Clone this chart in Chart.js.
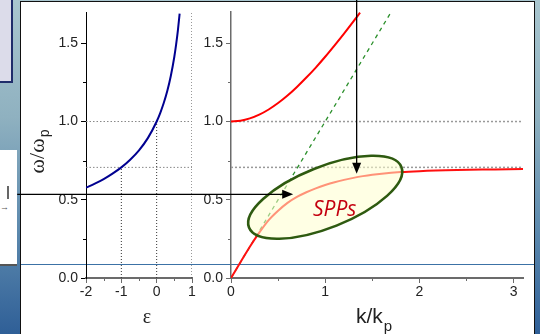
<!DOCTYPE html>
<html>
<head>
<meta charset="utf-8">
<script src="https://cdn.jsdelivr.net/npm/chart.js@4.4.1/dist/chart.umd.min.js"></script>
<style>
body { margin: 0; }
#wrap { position: relative; width: 540px; height: 334px; overflow: hidden;
  background: linear-gradient(180deg, #a9c6cf 0%, #8fb1c0 35%, #5b88ad 70%, #2f5f97 100%); }
#tab { position: absolute; left: 0; top: 0; width: 11px; height: 81px; background: #dcdcea;
  border-right: 2px solid #1f2d6a; border-bottom: 2px solid #1f2d6a; }
#side { position: absolute; left: 0; top: 150px; width: 17px; height: 114px; background: #fff;
  border-bottom: 2px solid #555; }
#bar { position: absolute; left: 7px; top: 186px; width: 2px; height: 13px; background: #666; }
#tiny { position: absolute; left: 0; top: 202px; font: 9px "Liberation Sans", Arial; color: #555; }
#frame { position: absolute; left: 20px; top: 1px; width: 513px; height: 340px; background: #fff;
  border: 1.5px solid #111; }
#hline { position: absolute; left: 21px; top: 264px; width: 513px; height: 1px; background: #3c72a6; }
canvas { position: absolute; left: 0; top: 0; }
</style>
</head>
<body>
<div id="wrap">
  <div id="tab"></div>
  <div id="side"></div>
  <div id="bar"></div>
  <div id="tiny">&rarr;</div>
  <div id="frame"></div>
  <div id="hline"></div>
  <canvas id="leftChart" width="540" height="334"></canvas>
  <canvas id="rightChart" width="540" height="334"></canvas>
</div>
<script>
// ---- data ----
// left panel: omega/omega_p vs permittivity
const epsVals   = [-2, -1.75, -1.5, -1.25, -1, -0.75, -0.5, -0.25, 0, 0.1, 0.2, 0.3, 0.4, 0.5, 0.55, 0.6, 0.65];
const epsOmega  = [0.577, 0.603, 0.632, 0.667, 0.707, 0.756, 0.816, 0.894, 1.0, 1.054, 1.118, 1.195, 1.291, 1.414, 1.491, 1.581, 1.69];

// right panel: dispersion curves
const bulkK     = [0, 0.1, 0.2, 0.3, 0.4, 0.5, 0.6, 0.7, 0.8, 0.9, 1.0, 1.1, 1.2, 1.3, 1.37];
const bulkOmega = [1.0, 1.005, 1.02, 1.044, 1.077, 1.118, 1.166, 1.221, 1.281, 1.345, 1.414, 1.487, 1.562, 1.64, 1.696];
const lightK     = [0, 1.7];
const lightOmega = [0, 1.7];
const sppK     = [0, 0.1, 0.2, 0.3, 0.4, 0.5, 0.6, 0.7, 0.8, 0.9, 1.0, 1.1, 1.2, 1.3, 1.4, 1.5, 1.6, 1.8, 2.0, 2.4, 2.8, 3.1];
const sppOmega = [0, 0.1, 0.2, 0.29, 0.37, 0.43, 0.48, 0.518, 0.548, 0.573, 0.594, 0.612, 0.627, 0.64, 0.651, 0.66, 0.667, 0.677, 0.683, 0.69, 0.694, 0.697];

// reference levels
const omegaP  = 1.0;
const omegaSP = 0.707;

// ticks
const omegaTicks = [0, 0.5, 1.0, 1.5];
const omegaMinor = [0.25, 0.75, 1.25];
const epsTicks   = [-2, -1, 0, 1];
const epsMinor   = [-1.5, -0.5, 0.5];
const kTicks     = [0, 1, 2, 3];
const kMinor     = [0.5, 1.5, 2.5];

const pts = (xs, ys) => xs.map((x, i) => ({ x: x, y: ys[i] }));
const tickFont = { family: '"Liberation Sans", Arial', size: 14 };
const axisGray = '#6b6b6b';

function setTicks(list) {
    return scale => { scale.ticks = list.map(v => ({ value: v })); };
}

function drawMinor(chart, id, values, len, color) {
    const s = chart.scales[id];
    const c = chart.ctx;
    c.save();
    c.strokeStyle = color;
    c.lineWidth = 1;
    values.forEach(v => {
        c.beginPath();
        if (s.isHorizontal()) {
            const x = Math.round(s.getPixelForValue(v)) + 0.5;
            c.moveTo(x, s.top);
            c.lineTo(x, s.top + len);
        } else {
            const y = Math.round(s.getPixelForValue(v)) + 0.5;
            c.moveTo(s.right - len, y);
            c.lineTo(s.right, y);
        }
        c.stroke();
    });
    c.restore();
}

function arrow(c, x1, y1, x2, y2) {
    const a = Math.atan2(y2 - y1, x2 - x1);
    c.beginPath();
    c.moveTo(x1, y1);
    c.lineTo(x2 - 9 * Math.cos(a), y2 - 9 * Math.sin(a));
    c.stroke();
    c.beginPath();
    c.moveTo(x2, y2);
    c.lineTo(x2 - 11 * Math.cos(a) + 4.5 * Math.sin(a), y2 - 11 * Math.sin(a) - 4.5 * Math.cos(a));
    c.lineTo(x2 - 11 * Math.cos(a) - 4.5 * Math.sin(a), y2 - 11 * Math.sin(a) + 4.5 * Math.cos(a));
    c.closePath();
    c.fill();
}

// ---- left panel ----
const leftDecor = {
    id: 'leftDecor',
    afterDraw(chart) {
        const c = chart.ctx;
        drawMinor(chart, 'y', omegaMinor, 3, '#000');
        drawMinor(chart, 'x', epsMinor, 3, axisGray);
        c.save();
        c.fillStyle = '#222';
        // y title: omega/omega_p, rotated
        c.translate(44, 152);
        c.rotate(-Math.PI / 2);
        c.font = '22px "Liberation Serif", serif';
        const main = '\u03c9/\u03c9';
        const w = c.measureText(main).width;
        c.font = '14px "Liberation Sans", Arial';
        const pw = c.measureText('p').width;
        const x0 = -(w + pw) / 2;
        c.font = '22px "Liberation Serif", serif';
        c.textBaseline = 'alphabetic';
        c.fillText(main, x0, 0);
        c.font = '14px "Liberation Sans", Arial';
        c.fillText('p', x0 + w + 1, 5);
        c.restore();
        c.save();
        c.fillStyle = '#222';
        c.font = '20px "Liberation Serif", serif';
        c.textAlign = 'center';
        c.fillText('\u03b5', 147, 323);
        c.restore();
    }
};

new Chart(document.getElementById('leftChart').getContext('2d'), {
    type: 'scatter',
    data: {
        datasets: [
            {
                data: pts(epsVals, epsOmega),
                showLine: true,
                borderColor: '#000090',
                borderWidth: 2,
                pointRadius: 0,
                cubicInterpolationMode: 'monotone'
            },
            {
                data: [{ x: -2, y: omegaP }, { x: 1, y: omegaP }],
                showLine: true, borderColor: '#888', borderWidth: 1, borderDash: [1.5, 2], pointRadius: 0
            },
            {
                data: [{ x: -2, y: omegaSP }, { x: 1, y: omegaSP }],
                showLine: true, borderColor: '#888', borderWidth: 1, borderDash: [1.5, 2], pointRadius: 0
            },
            {
                data: [{ x: -1, y: 0 }, { x: -1, y: omegaSP }],
                showLine: true, borderColor: '#333', borderWidth: 1, borderDash: [1, 2], pointRadius: 0
            },
            {
                data: [{ x: 0, y: 0 }, { x: 0, y: omegaP }],
                showLine: true, borderColor: '#333', borderWidth: 1, borderDash: [1, 2], pointRadius: 0
            },
            {
                data: [{ x: 1, y: 0 }, { x: 1, y: 1.7 }],
                showLine: true, borderColor: '#333', borderWidth: 1, borderDash: [1, 2], pointRadius: 0
            }
        ]
    },
    options: {
        responsive: false,
        animation: false,
        layout: { padding: { left: 46, right: 348, top: 12, bottom: 36 } },
        plugins: { legend: { display: false }, tooltip: { enabled: false } },
        scales: {
            x: {
                type: 'linear', min: -2, max: 1,
                afterBuildTicks: setTicks(epsTicks),
                afterFit: s => { s.height = 20; },
                border: { color: axisGray, width: 2 },
                grid: { drawOnChartArea: false, tickLength: 5, color: axisGray },
                ticks: { color: '#222', font: tickFont, padding: 1, maxRotation: 0 }
            },
            y: {
                type: 'linear', min: 0, max: 1.7,
                afterBuildTicks: setTicks(omegaTicks),
                afterFit: s => { s.width = 40; },
                border: { color: '#000', width: 1 },
                grid: { drawOnChartArea: false, tickLength: 5, color: '#000' },
                ticks: { color: '#222', font: tickFont, padding: 3, callback: v => v.toFixed(1) }
            }
        }
    },
    plugins: [leftDecor]
});

// ---- right panel ----
const rightDecor = {
    id: 'rightDecor',
    afterDraw(chart) {
        const c = chart.ctx;
        const xs = chart.scales.x, ys = chart.scales.y;
        drawMinor(chart, 'y', omegaMinor, 3, axisGray);
        drawMinor(chart, 'x', kMinor, 3, axisGray);

        // highlighted SPP region
        const cx = xs.getPixelForValue(1.0), cy = ys.getPixelForValue(0.516);
        c.save();
        c.beginPath();
        c.ellipse(cx, cy, 82, 30.5, -21.7 * Math.PI / 180, 0, 2 * Math.PI);
        c.fillStyle = 'rgba(255, 255, 205, 0.55)';
        c.fill();
        c.lineWidth = 2.6;
        c.strokeStyle = '#2e5a10';
        c.stroke();
        c.fillStyle = '#c4000f';
        c.font = 'italic 21px "Open Sans", sans-serif';
        c.textAlign = 'center';
        c.textBaseline = 'middle';
        c.fillText('SPPs', xs.getPixelForValue(1.1), ys.getPixelForValue(0.435));
        c.restore();

        // pointer arrows
        c.save();
        c.strokeStyle = '#000';
        c.fillStyle = '#000';
        c.lineWidth = 1.3;
        arrow(c, xs.getPixelForValue(-2.27), ys.getPixelForValue(0.535),
                 xs.getPixelForValue(0.66), ys.getPixelForValue(0.535));
        arrow(c, xs.getPixelForValue(1.334), ys.getPixelForValue(1.78),
                 xs.getPixelForValue(1.334), ys.getPixelForValue(0.666));
        c.restore();

        // x title k/k_p
        c.save();
        c.fillStyle = '#222';
        c.font = '21px "Liberation Sans", Arial';
        c.fillText('k/k', 356, 323);
        const w = c.measureText('k/k').width;
        c.font = '15px "Liberation Sans", Arial';
        c.fillText('p', 356 + w + 1, 331);
        c.restore();
    }
};

new Chart(document.getElementById('rightChart').getContext('2d'), {
    type: 'scatter',
    data: {
        datasets: [
            {
                data: pts(bulkK, bulkOmega),
                showLine: true, borderColor: '#ff0000', borderWidth: 2, pointRadius: 0,
                cubicInterpolationMode: 'monotone'
            },
            {
                data: pts(sppK, sppOmega),
                showLine: true, borderColor: '#ff1010', borderWidth: 2, pointRadius: 0,
                cubicInterpolationMode: 'monotone'
            },
            {
                data: pts(lightK, lightOmega),
                showLine: true, borderColor: '#2a8f2a', borderWidth: 1.3, borderDash: [4, 4], pointRadius: 0
            },
            {
                data: [{ x: 0, y: omegaP }, { x: 3.1, y: omegaP }],
                showLine: true, borderColor: '#999', borderWidth: 1.5, borderDash: [2, 2], pointRadius: 0
            },
            {
                data: [{ x: 0, y: omegaSP }, { x: 3.1, y: omegaSP }],
                showLine: true, borderColor: '#999', borderWidth: 1.5, borderDash: [2, 2], pointRadius: 0
            }
        ]
    },
    options: {
        responsive: false,
        animation: false,
        layout: { padding: { left: 191, right: 17, top: 12, bottom: 36 } },
        plugins: { legend: { display: false }, tooltip: { enabled: false } },
        scales: {
            x: {
                type: 'linear', min: 0, max: 3.1,
                afterBuildTicks: setTicks(kTicks),
                afterFit: s => { s.height = 20; },
                border: { color: axisGray, width: 2 },
                grid: { drawOnChartArea: false, tickLength: 5, color: axisGray },
                ticks: { color: '#222', font: tickFont, padding: 1, maxRotation: 0 }
            },
            y: {
                type: 'linear', min: 0, max: 1.7,
                afterBuildTicks: setTicks(omegaTicks),
                afterFit: s => { s.width = 40; },
                border: { color: axisGray, width: 1.5 },
                grid: { drawOnChartArea: false, tickLength: 5, color: axisGray },
                ticks: { color: '#222', font: tickFont, padding: 3, callback: v => v.toFixed(1) }
            }
        }
    },
    plugins: [rightDecor]
});
</script>
</body>
</html>
